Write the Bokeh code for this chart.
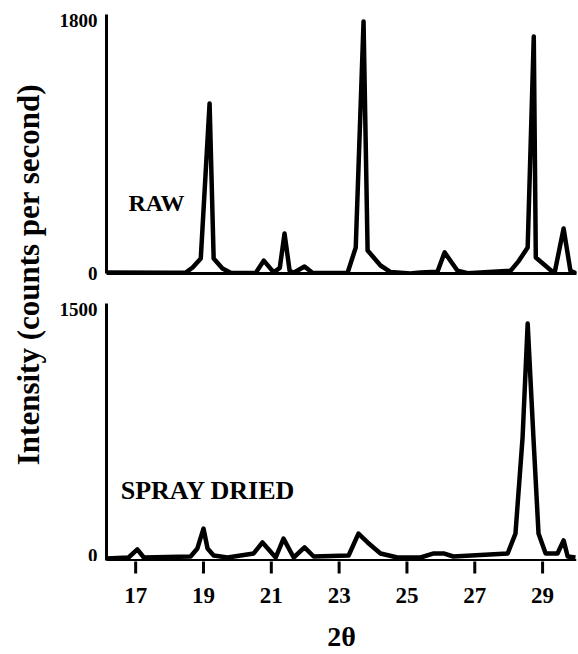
import math
from bokeh.plotting import figure
from bokeh.layouts import row, column
from bokeh.models import Range1d, FixedTicker, Label, Span
from bokeh.core.properties import value
from bokeh.embed import file_html
from bokeh.resources import INLINE

# ---------------- data ----------------
raw_two_theta = [16.14, 18.0, 18.47, 18.68, 18.92, 19.18, 19.30, 19.56, 19.80,
                 20.54, 20.78, 21.07, 21.25, 21.39, 21.54, 21.66, 21.98, 22.22,
                 23.25, 23.49, 23.72, 23.84, 24.22, 24.52, 25.10, 25.40, 25.90,
                 26.11, 26.49, 26.79, 28.06, 28.30, 28.56, 28.74, 28.80, 29.18,
                 29.35, 29.62, 29.82, 30.0]
raw_counts = [8, 5, 5, 43, 107, 1210, 107, 36, 5,
              4, 92, 8, 40, 285, 20, 5, 50, 3,
              5, 185, 1793, 164, 57, 10, 0, 7, 12,
              150, 20, 2, 20, 90, 185, 1686, 114, 36,
              0, 320, 20, 0]

sd_two_theta = [16.14, 16.79, 17.05, 17.24, 18.62, 18.82, 19.00, 19.12, 19.30,
                19.71, 20.48, 20.74, 21.13, 21.36, 21.66, 21.98, 22.25, 23.28,
                23.57, 23.84, 24.22, 24.72, 25.40, 25.79, 26.08, 26.37, 27.97,
                28.20, 28.41, 28.56, 28.73, 28.88, 29.09, 29.44, 29.62, 29.74,
                29.97]
sd_counts = [12, 18, 66, 18, 24, 72, 191, 72, 30,
             18, 42, 108, 18, 131, 18, 78, 24, 30,
             161, 108, 42, 18, 18, 42, 42, 24, 42,
             161, 735, 1416, 735, 161, 42, 42, 120, 24,
             18]

x_ticks = [17, 19, 21, 23, 25, 27, 29]
x_tick_labels = [str(t) for t in x_ticks]
raw_y_ticks = [0, 1800]
sd_y_ticks = [0, 1500]
panel_labels = ["RAW", "SPRAY DRIED"]
y_title = "Intensity (counts per second)"
x_title = "2\u03b8"

FONT = "Liberation Serif"
X_RANGE = (16.14, 30.0)


def style(p):
    p.xgrid.visible = False
    p.ygrid.visible = False
    p.outline_line_color = None
    p.background_fill_color = "white"
    p.border_fill_color = "white"
    for ax in p.axis:
        ax.axis_line_width = 3
        ax.axis_line_color = "black"
        ax.major_label_text_font = FONT
        ax.major_label_text_font_style = "bold"
        ax.major_label_text_color = "black"


# ---------------- left strip with the shared y title ----------------
lab = figure(width=50, height=654, x_range=Range1d(0, 50), y_range=Range1d(0, 654),
             min_border=0, toolbar_location=None, output_backend="svg", title=None)
lab.axis.visible = False
lab.xgrid.visible = False
lab.ygrid.visible = False
lab.outline_line_color = None
lab.add_layout(Label(x=28, y=380, text=y_title, angle=math.pi / 2,
                     text_align="center", text_baseline="middle",
                     text_font=FONT, text_font_style="bold",
                     text_font_size="31px", text_color="black"))

# ---------------- top panel: RAW ----------------
top = figure(width=528, height=290, x_range=Range1d(*X_RANGE), y_range=Range1d(0, 1843),
             min_border_left=56, min_border_right=2, min_border_top=14, min_border_bottom=17,
             toolbar_location=None, output_backend="svg", title=None)
top.line(raw_two_theta, raw_counts, line_color="black", line_width=4.5, line_join="round")
style(top)
top.yaxis.ticker = FixedTicker(ticks=raw_y_ticks)
top.yaxis.major_tick_out = 0
top.yaxis.major_tick_in = 0
top.yaxis.major_label_standoff = 9
top.yaxis.major_label_text_font_size = "19px"
top.xaxis.ticker = FixedTicker(ticks=[])
top.xaxis.major_tick_out = 0
top.xaxis.major_tick_in = 0
top.xaxis.major_label_text_font_size = "0px"
top.add_layout(Label(x=16.79, y=505, text=panel_labels[0], text_font=FONT,
                     text_font_style="bold", text_font_size="24px",
                     text_align="left", text_baseline="alphabetic", text_color="black"))

# ---------------- bottom panel: SPRAY DRIED ----------------
bot = figure(width=528, height=271, x_range=Range1d(*X_RANGE), y_range=Range1d(-6, 1536),
             x_axis_location=None,
             min_border_left=56, min_border_right=2, min_border_top=13, min_border_bottom=0,
             toolbar_location=None, output_backend="svg", title=None)
bot.add_layout(Span(location=0, dimension="width", line_color="black", line_width=3))
bot.line(sd_two_theta, sd_counts, line_color="black", line_width=4.5, line_join="round")
style(bot)
bot.yaxis.ticker = FixedTicker(ticks=sd_y_ticks)
bot.yaxis.bounds = (0, 1536)
bot.yaxis.major_tick_out = 0
bot.yaxis.major_tick_in = 0
bot.yaxis.major_label_standoff = 9
bot.yaxis.major_label_text_font_size = "19px"
bot.add_layout(Label(x=16.56, y=418, text=panel_labels[1], text_font=FONT,
                     text_font_style="bold", text_font_size="26px",
                     text_align="left", text_baseline="alphabetic", text_color="black"))

# ---------------- x-axis strip: tick marks, tick labels, axis title ----------------
strip = figure(width=528, height=93, x_range=Range1d(*X_RANGE), y_range=Range1d(0, 93),
               min_border_left=56, min_border_right=2, min_border_top=0, min_border_bottom=0,
               toolbar_location=None, output_backend="svg", title=None)
strip.axis.visible = False
strip.xgrid.visible = False
strip.ygrid.visible = False
strip.outline_line_color = None
strip.border_fill_color = "white"
n = len(x_ticks)
strip.segment(x0=x_ticks, y0=[94] * n, x1=x_ticks, y1=[81] * n,
              line_color="black", line_width=3)
strip.text(x=x_ticks, y=[59] * n, text=x_tick_labels,
           text_font=value(FONT), text_font_style=value("bold"),
           text_font_size=value("23px"), text_align=value("center"),
           text_baseline=value("middle"), text_color="black")
strip.add_layout(Label(x=(X_RANGE[0] + X_RANGE[1]) / 2, y=18, text=x_title,
                       text_font=FONT, text_font_style="bold", text_font_size="28px",
                       text_align="center", text_baseline="middle", text_color="black"))

layout = row(lab, column(top, bot, strip))
open("out.html", "w").write(file_html(layout, INLINE))
